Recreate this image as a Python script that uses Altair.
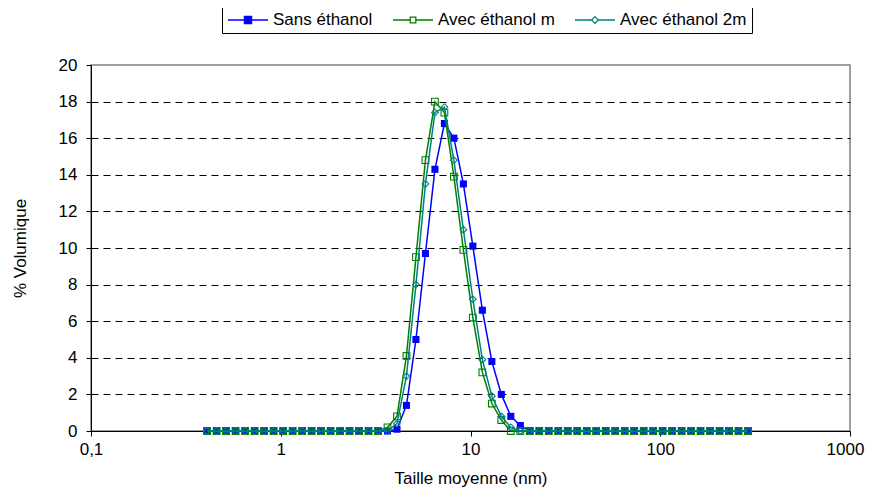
import altair as alt
import pandas as pd

# Size classes (nm) of the distribution
sizes = [0.409, 0.459, 0.515, 0.578, 0.649, 0.728, 0.817, 0.917, 1.029, 1.155,
         1.296, 1.454, 1.631, 1.830, 2.054, 2.304, 2.585, 2.901, 3.255, 3.652,
         4.097, 4.597, 5.158, 5.788, 6.494, 7.286, 8.175, 9.173, 10.29, 11.55,
         12.96, 14.54, 16.31, 18.30, 20.54, 23.04, 25.85, 29.01, 32.55, 36.52,
         40.97, 45.97, 51.58, 57.88, 64.94, 72.86, 81.75, 91.73, 102.9, 115.5,
         129.6, 145.4, 163.1, 183.0, 205.4, 230.4, 258.5, 290.1]

sans_ethanol = [0, 0, 0, 0, 0, 0, 0, 0, 0, 0,
                0, 0, 0, 0, 0, 0, 0, 0, 0, 0.0,
                0.1, 1.4, 5.0, 9.7, 14.3, 16.8, 16.0, 13.5, 10.1, 6.6,
                3.8, 2.0, 0.8, 0.3, 0, 0, 0, 0, 0, 0,
                0, 0, 0, 0, 0, 0, 0, 0, 0, 0,
                0, 0, 0, 0, 0, 0, 0, 0]

avec_ethanol_m = [0, 0, 0, 0, 0, 0, 0, 0, 0, 0,
                  0, 0, 0, 0, 0, 0, 0, 0, 0, 0.2,
                  0.8, 4.1, 9.5, 14.8, 18.0, 17.4, 13.9, 9.9, 6.2, 3.2,
                  1.5, 0.6, 0.0, 0.0, 0, 0, 0, 0, 0, 0,
                  0, 0, 0, 0, 0, 0, 0, 0, 0, 0,
                  0, 0, 0, 0, 0, 0, 0, 0]

avec_ethanol_2m = [0, 0, 0, 0, 0, 0, 0, 0, 0, 0,
                   0, 0, 0, 0, 0, 0, 0, 0, 0, 0.0,
                   0.4, 3.0, 8.0, 13.5, 17.4, 17.7, 14.8, 11.0, 7.2, 3.9,
                   1.9, 0.8, 0.2, 0.0, 0, 0, 0, 0, 0, 0,
                   0, 0, 0, 0, 0, 0, 0, 0, 0, 0,
                   0, 0, 0, 0, 0, 0, 0, 0]

series_names = ["Sans éthanol", "Avec éthanol m", "Avec éthanol 2m"]
series_values = [sans_ethanol, avec_ethanol_m, avec_ethanol_2m]
colors = ["#0000FF", "#008000", "#008080"]
legend_fills = ["#0000FF", "white", "white"]
marker_shapes = ["square", "square", "diamond"]
marker_filled = [True, False, False]
marker_sizes = [50, 45, 45]
x_ticks = [0.1, 1, 10, 100, 1000]
y_ticks = [0, 2, 4, 6, 8, 10, 12, 14, 16, 18, 20]

legend_paths = [
    "M-1,0H1M-0.18,-0.18H0.18V0.18H-0.18Z",
    "M-1,0H-0.14M0.14,0H1M-0.14,-0.14H0.14V0.14H-0.14Z",
    "M-1,0H-0.17M0.17,0H1M0,-0.17L0.17,0L0,0.17L-0.17,0Z",
]

rows = []
for name, vals in zip(series_names, series_values):
    for s, v in zip(sizes, vals):
        rows.append({"size": s, "vol": v, "series": name})
df = pd.DataFrame(rows)

FONT = "Liberation Sans"
FS = 17

xscale = alt.Scale(type="log", domain=[0.1, 1000], nice=False)
yscale = alt.Scale(domain=[0, 20], nice=False)

xaxis = alt.Axis(
    values=x_ticks, tickCount=len(x_ticks),
    labelExpr="datum.value < 1 ? '0,1' : format(datum.value, 'd')",
    grid=False, tickSize=5, tickColor="black", domainColor="black",
    labelFont=FONT, labelFontSize=FS, labelColor="black", labelPadding=5,
    labelFlush=False, labelOverlap=False,
    labelOffset=alt.condition("datum.value == 1000", alt.value(-5), alt.value(0)),
    title="Taille moyenne (nm)", titleFont=FONT, titleFontSize=FS,
    titleFontWeight="normal", titleColor="black", titlePadding=13,
)
yaxis = alt.Axis(
    values=y_ticks, tickCount=len(y_ticks), format="d", labelOverlap=False,
    grid=True, gridColor="black", gridDash=[7, 5], gridWidth=1,
    gridOpacity=alt.condition("datum.value == 0 || datum.value == 20", alt.value(0), alt.value(1)),
    tickSize=5, tickColor="black", domainColor="black",
    labelFont=FONT, labelFontSize=FS, labelColor="black", labelPadding=9,
    title="% Volumique", titleFont=FONT, titleFontSize=FS,
    titleFontWeight="normal", titleColor="black", titlePadding=29,
)

enc = dict(
    x=alt.X("size:Q", scale=xscale, axis=xaxis),
    y=alt.Y("vol:Q", scale=yscale, axis=yaxis),
)

layers = []
for name, col, shp, fil, sz in zip(series_names, colors, marker_shapes, marker_filled, marker_sizes):
    base = alt.Chart(df).transform_filter(alt.datum.series == name)
    layers.append(base.mark_line(color=col, strokeWidth=1.5).encode(**enc))
    layers.append(
        base.mark_point(shape=shp, filled=fil, color=col, size=sz, strokeWidth=1.1, opacity=1).encode(**enc)
    )

leg = alt.Legend(
    orient="none", legendX=131, legendY=-58, direction="horizontal", title=None,
    strokeColor="black", fillColor="white", padding=5,
    labelFont=FONT, labelFontSize=FS, labelColor="black", labelOffset=4,
    symbolSize=1600, symbolStrokeWidth=1.3, clipHeight=16, columnPadding=19,
    labelLimit=0,
)

legend_layer = alt.Chart(df).transform_filter("false").mark_point(filled=False, opacity=1).encode(
    x=alt.X("size:Q", scale=xscale, axis=xaxis),
    y=alt.Y("vol:Q", scale=yscale, axis=yaxis),
    shape=alt.Shape("series:N", scale=alt.Scale(domain=series_names, range=legend_paths), legend=leg),
    color=alt.Color("series:N", scale=alt.Scale(domain=series_names, range=colors), legend=leg),
    fill=alt.Fill("series:N", scale=alt.Scale(domain=series_names, range=legend_fills), legend=leg),
)

chart = alt.layer(*layers, legend_layer).properties(
    width=759, height=366,
    autosize=alt.AutoSizeParams(type="none"),
    padding={"left": 83, "top": 57, "right": 15, "bottom": 59},
).configure_view(stroke="#808080", strokeWidth=1.5)

chart.save("out.html", embed_options={"renderer": "svg", "actions": False})
